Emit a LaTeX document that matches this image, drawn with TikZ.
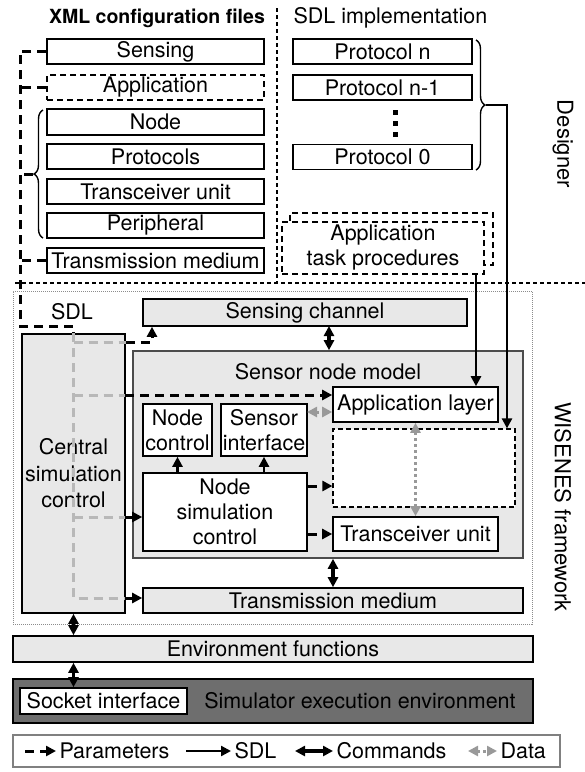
\documentclass[tikz,border=0pt]{standalone}
\usepackage{fontspec}
\setmainfont{TeX Gyre Heros}
\usepackage{tikz}
\usetikzlibrary{arrows.meta}
\usetikzlibrary{decorations.pathreplacing}
\tikzset{>={Triangle[width=10pt,length=10pt]}}

\begin{document}
\begin{tikzpicture}[x=1pt,y=-1pt,font=\fontsize{21.5}{25}\selectfont,
  box/.style={draw,line width=1.6pt,fill=white,inner sep=0pt,minimum height=25pt},
  xmlbox/.style={box,minimum width=217pt},
  sdlbox/.style={box,minimum width=179pt},
  greybox/.style={box,fill=black!9},
  dashbox/.style={dash pattern=on 6pt off 4pt},
  param/.style={line width=3pt,dash pattern=on 9pt off 6pt},
  hidden/.style={param,black!28},
  sdl/.style={line width=2.4pt,->},
  cmd/.style={line width=3.4pt,<->},
  data/.style={line width=3pt,black!40,dash pattern=on 3pt off 3pt,<->},
  divider/.style={line width=1.2pt,dash pattern=on 4pt off 3pt},
  brc/.style={decorate,decoration={brace,amplitude=9pt},line width=1.4pt}]
\useasboundingbox (0,0) rectangle (585,772);

% designer part
\node[font=\fontsize{19.5}{24}\selectfont\bfseries] (xmltitle) at (157,18) {XML configuration files};
\node[anchor=west] (sdltitle) at (290,18) {SDL implementation};
\draw[divider] (277,8) -- (277,283);
\draw[divider] (15,283) -- (585,283);

\node[xmlbox] (sens) at (155.5,51.5) {Sensing};
\node[xmlbox,dashbox] (app) at (155.5,87.5) {Application};
\node[xmlbox,minimum height=26pt] (node) at (155.5,122) {Node};
\node[xmlbox] (prot) at (155.5,156.5) {Protocols};
\node[xmlbox] (trx) at (155.5,191.5) {Transceiver unit};
\node[xmlbox] (peri) at (155.5,225.5) {Peripheral};
\node[xmlbox] (tmed) at (155.5,260.5) {Transmission medium};
\draw[brc] (43,238) -- (43,110);
\coordinate (xmltip) at (33,174);

\node[sdlbox] (pn) at (382.5,51.5) {Protocol n};
\node[sdlbox] (pn1) at (382.5,87.5) {Protocol n-1};
\node[sdlbox] (p0) at (382.5,157) {Protocol 0};
\foreach \y in {110,121,132} \fill (392.5,\y) rectangle (397.5,\y+5);
\draw[brc] (476,40) -- (476,170);
\coordinate (sdltip) at (486,105);
\coordinate (sdlx) at (507,105);

\node[box,dashbox,minimum width=203pt,minimum height=52pt] (atpback) at (391.5,239) {};
\node[box,dashbox,minimum width=202pt,minimum height=52pt,align=center] (atp) at (383,248) {Application\\task procedures};
\coordinate (atpx) at (476,274);

\node[rotate=-90,font=\fontsize{22}{26}\selectfont] (designer) at (563,144) {Designer};
\node[rotate=-90,font=\fontsize{22}{26}\selectfont] (wisenes) at (563,507) {WISENES framework};

% framework part
\node[draw=black!45,line width=1pt,densely dotted,minimum width=519pt,minimum height=333pt] (frame) at (272.5,457.5) {};
\node (sdllbl) at (72,312) {SDL};
\node[greybox,minimum width=324pt,minimum height=27pt] (schan) at (305,312.5) {Sensing channel};
\node[greybox,draw=black!70,minimum width=390pt,minimum height=207pt] (snm) at (328,454.5) {};
\node (snmlbl) at (328,372) {Sensor node model};
\node[greybox,minimum width=103pt,minimum height=279pt,align=center,font=\fontsize{21.5}{26.5}\selectfont] (csc) at (73.5,473.5) {Central\\simulation\\control};

\node[box,minimum width=69pt,minimum height=52pt,align=center] (nctrl) at (177.5,430) {Node\\control};
\node[box,minimum width=86pt,minimum height=52pt,align=center] (sif) at (264,430) {Sensor\\interface};
\node[box,minimum width=165pt,minimum height=35pt] (applayer) at (415.5,404.5) {Application layer};
\node[box,line width=1.2pt,dash pattern=on 5pt off 3pt,minimum width=182pt,minimum height=78pt] (stack) at (424,468) {};
\node[box,minimum width=164pt,minimum height=78pt,align=center] (nsc) at (225,512) {Node\\simulation\\control};
\node[box,minimum width=165pt,minimum height=34pt] (trx2) at (415.5,534) {Transceiver unit};
\node[greybox,minimum width=380pt] (fwmed) at (333,600.5) {Transmission medium};

% execution environment
\node[greybox,minimum width=520pt,minimum height=26pt] (env) at (273,649) {Environment functions};
\node[box,fill=black!57,minimum width=520pt,minimum height=44pt] (simenv) at (273,701) {};
\node[box,minimum width=167pt,minimum height=26pt] (socket) at (103.5,701) {Socket interface};
\node (simlbl) at (360,701) {Simulator execution environment};

% parameters
\coordinate (pbend) at (20,326);
\draw[param] (sens.west) -| (pbend) -| (csc.north);
\draw[param] (app.west) -- (app.west -| pbend);
\draw[param] (xmltip) -- (xmltip -| pbend);
\draw[param] (tmed.west) -- (tmed.west -| pbend);
\coordinate (r1) at (152,342);
\coordinate (r2) at (125,395);
\coordinate (r3) at (125,517);
\coordinate (r4) at (125,598);
\coordinate (r5) at (307,486);
\draw[hidden] (csc.north) -- (csc.north |- r4) -- (r4);
\draw[hidden] (csc.north |- r1) -- (csc.east |- r1);
\draw[hidden] (csc.north |- r2) -- (r2);
\draw[hidden] (csc.north |- r3) -- (r3);
\draw[param,->] (csc.east |- r1) -- (r1) -- (r1 |- schan.south);
\draw[param,->] (r2) -- (r2 -| applayer.west);
\draw[param,->] (r3) -- (r3 -| nsc.west);
\draw[param,->] (r4) -- (r4 -| fwmed.west);
\draw[param,->] (nsc.east |- r5) -- (stack.west |- r5);
\draw[param,->] (nsc.east |- trx2) -- (trx2.west);

% sdl
\draw[sdl] (sdltip) -- (sdlx) -- (sdlx |- stack.north);
\draw[sdl] (atpx) -- (atpx |- applayer.north);
\draw[sdl] (nsc.north -| nctrl) -- (nctrl.south);
\draw[sdl] (nsc.north -| sif) -- (sif.south);

% commands
\coordinate (c1) at (329,326);
\draw[cmd] (c1) -- (c1 |- snm.north);
\draw[cmd] (snm.south -| fwmed.north) -- (fwmed.north);
\draw[cmd] (csc.south) -- (csc.south |- env.north);
\draw[cmd] (env.south -| csc) -- (socket.north -| csc);

% data
\coordinate (d1) at (307,412);
\draw[data] (d1) -- (d1 -| applayer.west);
\draw[data] (applayer.south) -- (trx2.north);

% legend
\node[draw=black!50,line width=1.6pt,minimum width=547pt,minimum height=32pt] (legend) at (286.5,751) {};
\node[anchor=west] (lpar) at (56,751) {Parameters};
\node[anchor=west] (lsdl) at (231,751) {SDL};
\node[anchor=west] (lcmd) at (333,751) {Commands};
\node[anchor=west] (ldat) at (497,751) {Data};
\coordinate (lp0) at (25,751);
\coordinate (ls0) at (186,751);
\coordinate (lc0) at (295,751);
\coordinate (ld0) at (468,751);
\draw[param,->] (lp0) -- (lpar.west);
\draw[sdl] (ls0) -- (lsdl.west);
\draw[cmd] (lc0) -- (lcmd.west);
\draw[data] (ld0) -- (ldat.west);
\end{tikzpicture}
\end{document}
